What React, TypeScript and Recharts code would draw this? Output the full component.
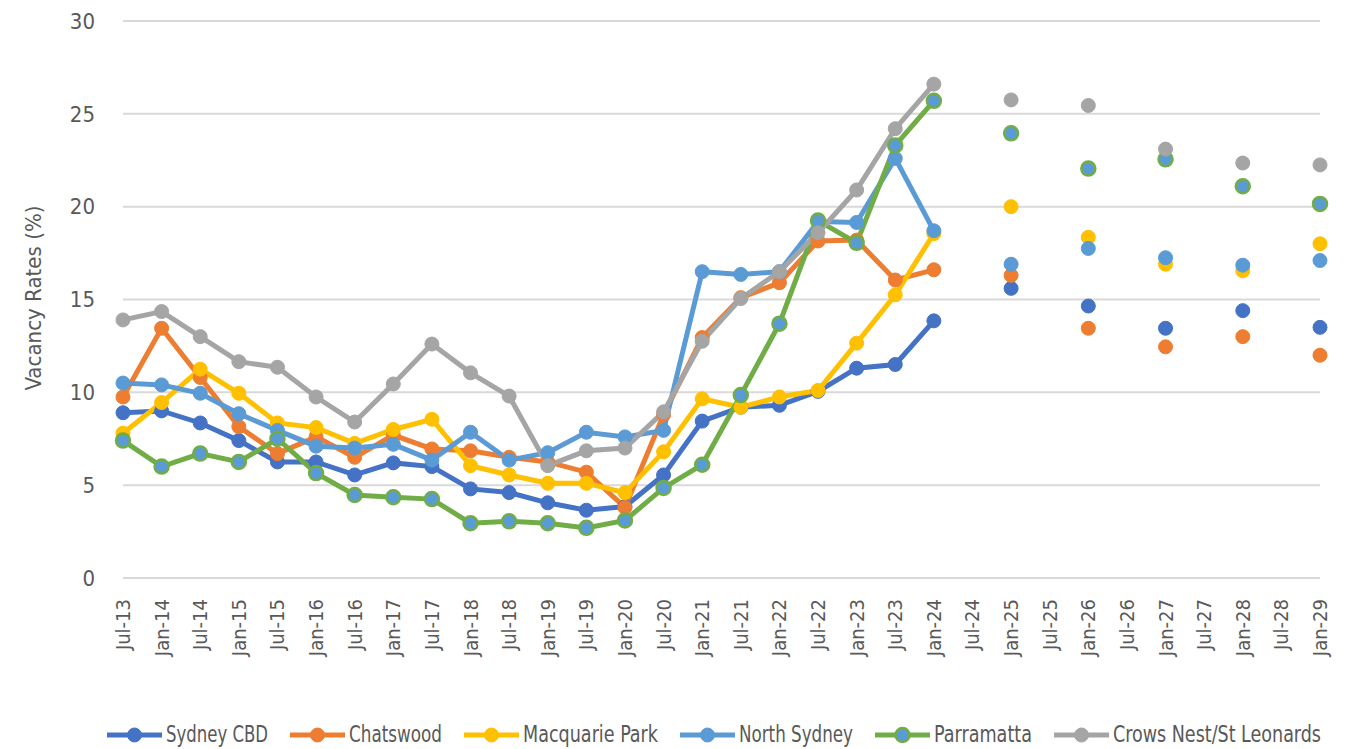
import { LineChart, Line, XAxis, YAxis, CartesianGrid } from 'recharts'

const periods = [
  'Jul-13', 'Jan-14', 'Jul-14', 'Jan-15', 'Jul-15', 'Jan-16', 'Jul-16', 'Jan-17',
  'Jul-17', 'Jan-18', 'Jul-18', 'Jan-19', 'Jul-19', 'Jan-20', 'Jul-20', 'Jan-21',
  'Jul-21', 'Jan-22', 'Jul-22', 'Jan-23', 'Jul-23', 'Jan-24', 'Jul-24', 'Jan-25',
  'Jul-25', 'Jan-26', 'Jul-26', 'Jan-27', 'Jul-27', 'Jan-28', 'Jul-28', 'Jan-29',
]

const sydneyCbd = [
  8.9, 9.0, 8.35, 7.4, 6.25, 6.25, 5.55, 6.2, 6.0, 4.8, 4.6, 4.05, 3.65, 3.85, 5.55, 8.45,
  9.2, 9.3, 10.05, 11.3, 11.5, 13.85, null, 15.6, null, 14.65, null, 13.45, null, 14.4, null, 13.5,
]
const chatswood = [
  9.75, 13.45, 10.8, 8.15, 6.7, 7.6, 6.5, 7.7, 6.95, 6.85, 6.5, 6.25, 5.7, 3.8, 8.8, 12.95,
  15.1, 15.9, 18.15, 18.2, 16.05, 16.6, null, 16.3, null, 13.45, null, 12.45, null, 13.0, null, 12.0,
]
const macquariePark = [
  7.8, 9.45, 11.25, 9.95, 8.35, 8.1, 7.25, 8.0, 8.55, 6.05, 5.55, 5.1, 5.1, 4.6, 6.8, 9.65,
  9.2, 9.75, 10.1, 12.65, 15.25, 18.55, null, 20.0, null, 18.35, null, 16.9, null, 16.55, null, 18.0,
]
const northSydney = [
  10.5, 10.4, 9.95, 8.85, 7.95, 7.1, 7.0, 7.2, 6.35, 7.85, 6.35, 6.75, 7.85, 7.6, 7.95, 16.5,
  16.35, 16.5, 19.2, 19.15, 22.6, 18.7, null, 16.9, null, 17.75, null, 17.25, null, 16.85, null, 17.1,
]
const parramatta = [
  7.4, 6.0, 6.7, 6.25, 7.5, 5.65, 4.47, 4.35, 4.25, 2.95, 3.05, 2.95, 2.7, 3.1, 4.85, 6.1,
  9.85, 13.7, 19.25, 18.05, 23.3, 25.7, null, 23.95, null, 22.05, null, 22.55, null, 21.1, null, 20.15,
]
const crowsNest = [
  13.9, 14.35, 13.0, 11.65, 11.35, 9.75, 8.4, 10.45, 12.6, 11.05, 9.8, 6.05, 6.85, 7.0, 8.95, 12.75,
  15.05, 16.5, 18.6, 20.9, 24.2, 26.6, null, 25.75, null, 25.45, null, 23.1, null, 22.35, null, 22.25,
]

const yTicks = [0, 5, 10, 15, 20, 25, 30]

// textW = how wide each legend label is drawn (condensed look)
const series = [
  { key: 'sydneyCbd', name: 'Sydney CBD', color: '#4472C4', dotFill: '#4472C4', textW: 102 },
  { key: 'chatswood', name: 'Chatswood', color: '#ED7D31', dotFill: '#ED7D31', textW: 93 },
  { key: 'macquariePark', name: 'Macquarie Park', color: '#FFC000', dotFill: '#FFC000', textW: 135 },
  { key: 'northSydney', name: 'North Sydney', color: '#5B9BD5', dotFill: '#5B9BD5', textW: 114 },
  { key: 'parramatta', name: 'Parramatta', color: '#70AD47', dotFill: '#5B9BD5', textW: 98 },
  { key: 'crowsNest', name: 'Crows Nest/St Leonards', color: '#A5A5A5', dotFill: '#A5A5A5', textW: 208 },
]

const data = periods.map((period, i) => ({
  period,
  sydneyCbd: sydneyCbd[i],
  chatswood: chatswood[i],
  macquariePark: macquariePark[i],
  northSydney: northSydney[i],
  parramatta: parramatta[i],
  crowsNest: crowsNest[i],
}))

const FONT = '"DejaVu Sans Condensed", "Liberation Sans Narrow", "Roboto", sans-serif'
const TEXT = '#595959'

const XTick = ({ x, y, payload }: any) => (
  <g transform={`translate(${x},${y + 19})`}>
    <text transform="rotate(-90)" textAnchor="end" dominantBaseline="central"
      fill={TEXT} fontSize={20} fontFamily={FONT}>
      {payload.value}
    </text>
  </g>
)

function Legend() {
  const lineW = 55
  let x = 107
  const items = series.map(s => {
    const item = { ...s, x }
    x += lineW + 4 + s.textW + 22
    return item
  })
  return (
    <svg width={1352} height={44} style={{ position: 'absolute', left: 0, top: 703 }}>
      {items.map(s => (
        <g key={s.key}>
          <line x1={s.x} y1={32} x2={s.x + lineW} y2={32} stroke={s.color} strokeWidth={5} />
          <circle cx={s.x + lineW / 2} cy={32} r={7} fill={s.dotFill} stroke={s.color}
            strokeWidth={s.key === 'parramatta' ? 2.5 : 1} />
          <g transform={`translate(${s.x + lineW + 4},31) scale(1,1.2)`}>
            <text x={0} y={0} dominantBaseline="central" fill={TEXT} fontSize={19}
              fontFamily={FONT} textLength={s.textW} lengthAdjust="spacingAndGlyphs">
              {s.name}
            </text>
          </g>
        </g>
      ))}
    </svg>
  )
}

export default function App() {
  return (
    <div style={{ position: 'absolute', left: 0, top: 0, width: 1352, height: 749, background: '#fff' }}>
      <LineChart width={1352} height={700} data={data} margin={{ top: 21, right: 32, left: 0, bottom: 100 }}>
        <CartesianGrid vertical={false} stroke="#D9D9D9" strokeWidth={2} />
        <XAxis dataKey="period" interval={0} axisLine={false} tickLine={false} tickSize={0}
          tick={<XTick />} height={22} />
        <YAxis domain={[0, 30]} ticks={yTicks} width={123} axisLine={false} tickLine={false}
          tickSize={0} tickMargin={28}
          tick={{ fill: TEXT, fontSize: 22, fontFamily: FONT }}
          label={{
            content: () => (
              <text x={33} y={298} transform="rotate(-90 33 298)" textAnchor="middle"
                dominantBaseline="central" fill={TEXT} fontSize={22} fontFamily={FONT}
                textLength={185} lengthAdjust="spacingAndGlyphs">
                Vacancy Rates (%)
              </text>
            ),
          }} />
        {series.map(s => (
          <Line key={s.key} dataKey={s.key} name={s.name} stroke={s.color} strokeWidth={5}
            dot={{ r: 7, fill: s.dotFill, stroke: s.color, strokeWidth: s.key === 'parramatta' ? 2.5 : 1 }}
            activeDot={false} isAnimationActive={false} />
        ))}
      </LineChart>
      <Legend />
    </div>
  )
}
